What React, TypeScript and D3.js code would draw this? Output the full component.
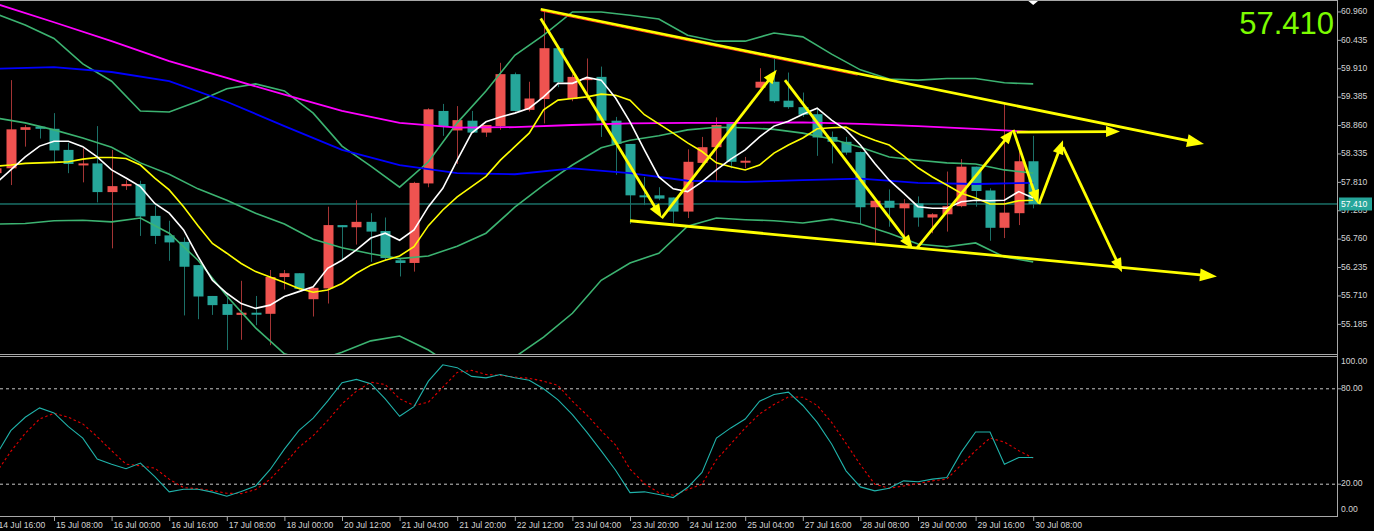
import React, { useEffect } from 'react';
import * as d3 from 'd3';

// layout of the terminal window
const W = 1374;
const H = 531;
const AXIS_X = 1337;
const MAIN_TOP = 1;
const MAIN_BOTTOM = 354;
const OSC_TOP = 357;
const OSC_BOTTOM = 516;

// first visible bar is index -1 (partly clipped at the left edge)
const FIRST_BAR = -1;

// H4 candles, bars -1 .. 71
const open = [57.98, 58.07, 58.78, 58.84, 58.80, 58.41, 58.14, 58.16, 57.63, 57.74, 57.78, 57.19, 56.83, 56.71, 56.28, 55.71, 55.56, 55.36, 55.40, 55.38, 56.06, 56.13, 55.65, 55.85, 57.02, 56.98, 57.08, 56.91, 56.37, 56.32, 57.79, 59.13, 58.77, 58.95, 58.73, 58.85, 59.81, 59.15, 59.35, 60.29, 59.35, 59.70, 59.76, 58.95, 58.52, 57.57, 57.57, 57.53, 57.27, 58.17, 58.46, 58.90, 58.19, 59.56, 59.67, 59.32, 59.20, 59.07, 58.65, 58.56, 58.37, 57.35, 57.47, 57.33, 57.42, 57.16, 57.22, 57.37, 58.10, 57.66, 56.97, 57.24, 58.20];
const high = [58.22, 59.70, 58.87, 58.85, 59.09, 58.54, 58.44, 58.85, 58.41, 57.85, 57.84, 57.38, 57.10, 56.79, 56.28, 55.71, 55.76, 55.99, 55.71, 56.19, 56.19, 56.13, 55.87, 57.36, 57.02, 57.48, 57.24, 57.16, 56.41, 57.82, 59.18, 59.26, 59.22, 59.13, 58.87, 60.02, 59.84, 59.67, 61.01, 60.29, 59.81, 60.10, 59.95, 59.02, 58.52, 57.91, 57.72, 57.53, 58.42, 58.65, 59.01, 58.91, 58.28, 59.92, 60.10, 59.84, 59.47, 59.18, 58.75, 58.65, 58.38, 57.47, 57.68, 57.50, 57.55, 57.24, 58.01, 58.24, 58.10, 57.70, 59.26, 58.50, 58.67];
const low = [57.85, 57.76, 58.47, 58.62, 58.18, 57.98, 57.81, 57.44, 56.59, 57.67, 56.82, 56.67, 56.36, 55.35, 55.28, 55.36, 54.71, 54.90, 55.17, 54.80, 55.83, 55.82, 55.33, 55.57, 56.37, 56.66, 56.34, 56.37, 56.07, 56.16, 57.72, 58.67, 58.15, 58.73, 58.65, 58.78, 59.12, 59.12, 58.90, 59.57, 59.31, 59.33, 58.65, 57.95, 57.04, 57.39, 57.48, 57.06, 57.15, 58.16, 57.82, 58.07, 58.07, 59.55, 59.28, 59.17, 59.02, 58.30, 58.16, 58.32, 57.04, 56.68, 56.99, 56.71, 56.99, 56.87, 56.90, 57.35, 57.36, 56.73, 56.78, 57.02, 57.33];
const close = [58.07, 58.79, 58.83, 58.80, 58.40, 58.15, 58.16, 57.63, 57.74, 57.78, 57.18, 56.82, 56.70, 56.25, 55.70, 55.54, 55.36, 55.40, 55.38, 56.06, 56.13, 55.84, 55.86, 57.02, 56.98, 57.08, 56.90, 56.41, 56.32, 57.80, 59.16, 58.84, 58.96, 58.73, 58.87, 59.81, 59.13, 59.36, 60.29, 59.66, 59.76, 59.74, 58.95, 58.52, 57.57, 57.54, 57.51, 57.27, 58.19, 58.46, 58.87, 58.19, 58.21, 59.67, 59.31, 59.20, 59.06, 58.64, 58.56, 58.36, 57.35, 57.47, 57.34, 57.42, 57.16, 57.22, 57.37, 58.10, 57.65, 56.97, 57.25, 58.20, 57.41];

// moving averages, one value per bar
const maFast = [57.80, 58.04, 58.28, 58.48, 58.57, 58.57, 58.47, 58.28, 58.04, 57.89, 57.73, 57.42, 57.24, 56.93, 56.44, 56.00, 55.76, 55.57, 55.48, 55.54, 55.70, 55.79, 55.88, 56.22, 56.37, 56.56, 56.78, 56.87, 56.74, 56.93, 57.36, 57.70, 58.22, 58.72, 58.93, 59.02, 59.09, 59.18, 59.39, 59.64, 59.64, 59.75, 59.70, 59.37, 58.93, 58.41, 57.91, 57.69, 57.64, 57.82, 58.04, 58.24, 58.41, 58.65, 58.85, 58.94, 59.07, 59.18, 58.96, 58.78, 58.50, 58.16, 57.85, 57.61, 57.36, 57.33, 57.33, 57.45, 57.48, 57.47, 57.48, 57.64, 57.52];
const maMedium = [58.11, 58.13, 58.16, 58.17, 58.18, 58.19, 58.24, 58.27, 58.27, 58.25, 58.13, 57.89, 57.67, 57.36, 57.01, 56.68, 56.50, 56.31, 56.16, 56.06, 55.96, 55.85, 55.78, 55.82, 55.94, 56.13, 56.28, 56.37, 56.45, 56.62, 57.01, 57.30, 57.54, 57.73, 57.92, 58.22, 58.47, 58.72, 59.15, 59.33, 59.36, 59.39, 59.44, 59.42, 59.33, 59.06, 58.89, 58.72, 58.54, 58.38, 58.17, 58.10, 58.04, 58.13, 58.35, 58.50, 58.63, 58.80, 58.82, 58.83, 58.69, 58.59, 58.50, 58.30, 58.08, 57.91, 57.76, 57.61, 57.52, 57.41, 57.41, 57.47, 57.48];

// slow averages read every 4 bars (-1, 3, 7 ... 71)
const maSlow = [61.11, 60.77, 60.42, 60.05, 59.74, 59.43, 59.13, 58.91, 58.82, 58.83, 58.87, 58.90, 58.91, 58.91, 58.92, 58.89, 58.85, 58.80, 58.74];
const maLong = [59.91, 59.94, 59.85, 59.68, 59.30, 58.85, 58.41, 58.13, 57.98, 57.96, 58.07, 57.98, 57.84, 57.82, 57.85, 57.88, 57.80, 57.78, 57.80];

// bollinger bands read every 2 bars (-1, 1, 3 ... 71)
const bbUpper = [60.92, 60.72, 60.47, 60.00, 59.68, 59.13, 59.11, 59.31, 59.54, 59.63, 59.50, 59.09, 58.48, 58.11, 57.72, 58.19, 58.91, 59.50, 60.16, 60.53, 60.96, 60.96, 60.90, 60.83, 60.53, 60.42, 60.42, 60.57, 60.50, 60.18, 59.89, 59.72, 59.70, 59.73, 59.73, 59.65, 59.63];
const bbMiddle = [59.00, 58.91, 58.78, 58.63, 58.46, 58.17, 57.96, 57.69, 57.48, 57.24, 57.04, 56.76, 56.60, 56.49, 56.40, 56.45, 56.63, 56.87, 57.35, 57.76, 58.13, 58.45, 58.59, 58.67, 58.78, 58.83, 58.82, 58.79, 58.72, 58.61, 58.46, 58.28, 58.22, 58.17, 58.15, 58.04, 57.98];
const bbLower = [57.04, 57.05, 57.10, 57.11, 57.08, 57.15, 56.87, 56.37, 55.71, 55.12, 54.64, 54.49, 54.67, 54.88, 54.97, 54.71, 54.36, 54.25, 54.58, 54.95, 55.39, 56.00, 56.32, 56.50, 57.00, 57.15, 57.12, 57.10, 57.06, 57.13, 57.04, 56.87, 56.67, 56.62, 56.69, 56.43, 56.34];

// stochastic oscillator, one value per bar
const stochK = [38.5, 53.7, 62.1, 68.0, 64.8, 56.2, 49.0, 35.8, 32.6, 29.7, 33.3, 24.8, 15.2, 16.8, 16.8, 15.0, 12.4, 15.4, 18.9, 29.1, 42.1, 53.7, 61.5, 72.2, 83.8, 85.9, 83.2, 73.7, 62.7, 68.8, 84.8, 95.1, 93.3, 87.8, 86.9, 89.0, 86.9, 85.4, 80.0, 73.0, 63.8, 52.8, 41.0, 28.8, 14.7, 15.2, 13.5, 11.6, 17.9, 27.4, 49.0, 55.4, 61.0, 72.2, 76.4, 77.9, 69.5, 58.9, 45.3, 28.4, 18.3, 15.8, 17.5, 22.1, 21.5, 23.2, 24.2, 40.0, 52.8, 52.8, 32.6, 36.8, 36.8];
const stochD = [27.4, 40.6, 52.0, 61.0, 64.6, 62.1, 57.9, 49.9, 41.1, 32.6, 31.6, 30.1, 23.2, 17.9, 17.1, 16.0, 14.3, 14.1, 16.6, 23.0, 32.6, 43.2, 50.5, 60.0, 70.5, 78.5, 84.2, 82.7, 73.7, 69.5, 71.6, 81.0, 90.3, 91.6, 89.0, 88.4, 87.4, 86.6, 84.8, 82.1, 72.2, 63.6, 53.7, 44.6, 29.5, 20.4, 14.7, 13.1, 16.6, 20.0, 35.4, 45.3, 55.4, 64.2, 70.1, 74.9, 74.7, 69.5, 58.9, 45.7, 32.2, 20.0, 17.5, 18.9, 20.4, 22.1, 23.2, 32.2, 41.1, 49.0, 46.5, 41.1, 36.4];

const priceTicks = [60.96, 60.435, 59.91, 59.385, 58.86, 58.335, 57.81, 57.285, 56.76, 56.235, 55.71, 55.185];
const oscTicks = [100, 80, 20, 0];
const oscLevels = [80, 20];
const timeLabels = ['14 Jul 16:00', '15 Jul 08:00', '16 Jul 00:00', '16 Jul 16:00', '17 Jul 08:00', '18 Jul 00:00', '20 Jul 12:00', '21 Jul 04:00', '21 Jul 20:00', '22 Jul 12:00', '23 Jul 04:00', '23 Jul 20:00', '24 Jul 12:00', '25 Jul 04:00', '27 Jul 16:00', '28 Jul 08:00', '29 Jul 00:00', '29 Jul 16:00', '30 Jul 08:00'];
const lastPrice = 57.41;

// hand drawn objects on the chart, [bar, price] pairs
const trendLines = [
    [[36.8, 61.01], [82.86, 58.52]],
    [[43.0, 57.1], [83.76, 56.07]],
];
const zigzag = [
    [[36.8, 60.84], [45.2, 57.15]],
    [[45.2, 57.15], [53.19, 59.89]],
    [[53.76, 59.7], [62.65, 56.58]],
    [[62.91, 56.59], [69.62, 58.78]],
    [[69.62, 58.78], [71.35, 57.41]],
    [[69.85, 58.74], [77.03, 58.75]],
    [[71.4, 57.41], [73.07, 58.59]],
    [[73.07, 58.46], [77.17, 56.15]],
];

const x = d3.scaleLinear().domain([0, 71]).range([10.8, 1033.2]);
const y = d3.scaleLinear().domain([54.637, 61.181]).range([MAIN_BOTTOM, 0]);
const yOsc = d3.scaleLinear().domain([0, 100]).range([OSC_BOTTOM, OSC_TOP]);

const FONT = '"Liberation Sans", Arial, sans-serif';
const AXIS_TEXT = '#d4d4d4';
const FRAME = '#a8a8a8';
const UP_FILL = '#ef5350';
const UP_WICK = '#a33434';
const DN_FILL = '#26a69a';
const DN_WICK = '#1c7068';
const BB_COLOR = '#3cb371';
const ARROW = '#ffff00';

const seriesPath = (values: number[], step: number, yScale: d3.ScaleLinear<number, number>) =>
    d3
        .line<number>()
        .x((_, k) => x(FIRST_BAR + k * step))
        .y(d => yScale(d))(values) || '';

const Arrow = ({ from, to, head = 14, half = 5.5 }: { from: number[]; to: number[]; head?: number; half?: number }) => {
    const x1 = x(from[0]);
    const y1 = y(from[1]);
    const x2 = x(to[0]);
    const y2 = y(to[1]);
    const len = Math.hypot(x2 - x1, y2 - y1);
    const ux = (x2 - x1) / len;
    const uy = (y2 - y1) / len;
    const bx = x2 - ux * head;
    const by = y2 - uy * head;
    const nx = -uy;
    const ny = ux;
    return (
        <g>
            <line x1={x1} y1={y1} x2={bx + ux * 3} y2={by + uy * 3} stroke={ARROW} strokeWidth={2.8} />
            <polygon
                points={`${x2},${y2} ${bx + nx * half},${by + ny * half} ${bx - nx * half},${by - ny * half}`}
                fill={ARROW}
            />
        </g>
    );
};

const App = () => {
    useEffect(() => {
        document.body.style.margin = '0';
        document.body.style.background = '#000';
    }, []);

    const bars = open.map((o, k) => ({
        i: FIRST_BAR + k,
        o,
        h: high[k],
        l: low[k],
        c: close[k],
    }));

    const tickBars = d3.range(-1, 72, 4);
    const upper = trendLines[0];

    return (
        <svg width={W} height={H} style={{ position: 'absolute', left: 0, top: 0, background: '#000' }}>
            <defs>
                <clipPath id='mainClip'>
                    <rect x={0} y={MAIN_TOP} width={AXIS_X} height={MAIN_BOTTOM - MAIN_TOP} />
                </clipPath>
                <clipPath id='oscClip'>
                    <rect x={0} y={OSC_TOP} width={AXIS_X} height={OSC_BOTTOM - OSC_TOP} />
                </clipPath>
            </defs>
            <rect width={W} height={H} fill='#000' />

            <g clipPath='url(#mainClip)'>
                {/* bid line */}
                <line x1={0} x2={AXIS_X} y1={y(lastPrice)} y2={y(lastPrice)} stroke={DN_FILL} strokeWidth={1} />

                {bars.map(b => {
                    const up = b.c >= b.o;
                    const cx = Math.round(x(b.i)) + 0.5;
                    const top = y(Math.max(b.o, b.c));
                    const bot = y(Math.min(b.o, b.c));
                    return (
                        <g key={b.i}>
                            <line x1={cx} x2={cx} y1={y(b.h)} y2={y(b.l)} stroke={up ? UP_WICK : DN_WICK} strokeWidth={1} />
                            <rect
                                x={cx - 5}
                                y={top}
                                width={10}
                                height={Math.max(2, bot - top)}
                                fill={up ? UP_FILL : DN_FILL}
                            />
                        </g>
                    );
                })}

                {[bbUpper, bbMiddle, bbLower].map((band, k) => (
                    <path key={k} d={seriesPath(band, 2, y)} fill='none' stroke={BB_COLOR} strokeWidth={1.6} />
                ))}
                <path d={seriesPath(maSlow, 4, y)} fill='none' stroke='#ff00ff' strokeWidth={1.8} />
                <path d={seriesPath(maLong, 4, y)} fill='none' stroke='#0000ff' strokeWidth={1.8} />
                <path d={seriesPath(maMedium, 1, y)} fill='none' stroke='#ffff00' strokeWidth={1.6} />
                <path d={seriesPath(maFast, 1, y)} fill='none' stroke='#ffffff' strokeWidth={1.6} />

                {/* thin red copy under the upper channel line */}
                <line
                    x1={x(upper[0][0])}
                    y1={y(upper[0][1]) + 1.6}
                    x2={x(58.8)}
                    y2={y(upper[0][1] + ((upper[1][1] - upper[0][1]) * (58.8 - upper[0][0])) / (upper[1][0] - upper[0][0])) + 1.6}
                    stroke='#ff2020'
                    strokeWidth={1}
                />
                {trendLines.map((t, k) => (
                    <Arrow key={`t${k}`} from={t[0]} to={t[1]} head={17} half={6.5} />
                ))}
                {zigzag.map((t, k) => (
                    <Arrow key={`z${k}`} from={t[0]} to={t[1]} />
                ))}
            </g>

            {/* shift marker */}
            <polygon points={`${x(71) - 6},0 ${x(71) + 6},0 ${x(71)},5`} fill='#ffffff' />

            <g clipPath='url(#oscClip)'>
                {oscLevels.map(v => (
                    <line
                        key={v}
                        x1={0}
                        x2={AXIS_X}
                        y1={yOsc(v)}
                        y2={yOsc(v)}
                        stroke='#c8c8c8'
                        strokeWidth={1}
                        strokeDasharray='3,3'
                    />
                ))}
                <path d={seriesPath(stochD, 1, yOsc)} fill='none' stroke='#e00000' strokeWidth={1.1} strokeDasharray='2.5,2.5' />
                <path d={seriesPath(stochK, 1, yOsc)} fill='none' stroke='#20b2aa' strokeWidth={1.1} />
            </g>

            {/* frames */}
            <g stroke={FRAME} strokeWidth={1} shapeRendering='crispEdges'>
                <line x1={0} x2={AXIS_X} y1={0.5} y2={0.5} />
                <line x1={0} x2={AXIS_X} y1={MAIN_BOTTOM + 0.5} y2={MAIN_BOTTOM + 0.5} />
                <line x1={0} x2={AXIS_X} y1={OSC_TOP - 0.5} y2={OSC_TOP - 0.5} />
                <line x1={0} x2={AXIS_X} y1={OSC_BOTTOM + 0.5} y2={OSC_BOTTOM + 0.5} />
                <line x1={AXIS_X + 0.5} x2={AXIS_X + 0.5} y1={0} y2={OSC_BOTTOM + 1} />
            </g>

            {/* price axis */}
            <g fontFamily={FONT} fontSize={8.6} fill={AXIS_TEXT}>
                {priceTicks.map(p => (
                    <g key={p}>
                        <line x1={AXIS_X} x2={AXIS_X + 4} y1={y(p)} y2={y(p)} stroke={FRAME} />
                        <text x={AXIS_X + 4} y={y(p)} dominantBaseline='middle'>
                            {p.toFixed(3)}
                        </text>
                    </g>
                ))}
                <rect x={AXIS_X + 2} y={y(lastPrice) - 6.5} width={33} height={13} fill={DN_FILL} />
                <text x={AXIS_X + 4} y={y(lastPrice) + 0.5} dominantBaseline='middle' fill='#ffffff'>
                    {lastPrice.toFixed(3)}
                </text>
            </g>

            {/* oscillator axis */}
            <g fontFamily={FONT} fontSize={8.6} fill={AXIS_TEXT}>
                {oscTicks.map(v => {
                    const ty = Math.min(Math.max(yOsc(v), OSC_TOP + 5), OSC_BOTTOM - 6);
                    return (
                        <g key={v}>
                            {oscLevels.includes(v) && (
                                <line x1={AXIS_X} x2={AXIS_X + 4} y1={yOsc(v)} y2={yOsc(v)} stroke={FRAME} />
                            )}
                            <text x={AXIS_X + 4} y={ty} dominantBaseline='middle'>
                                {v.toFixed(2)}
                            </text>
                        </g>
                    );
                })}
            </g>

            {/* time axis */}
            <g fontFamily={FONT} fontSize={8.6} fill={AXIS_TEXT}>
                {tickBars.map((b, k) => (
                    <g key={b}>
                        <line x1={x(b) + 0.5} x2={x(b) + 0.5} y1={OSC_BOTTOM + 1} y2={OSC_BOTTOM + 5} stroke={FRAME} />
                        <text x={x(b) + 2} y={OSC_BOTTOM + 10} dominantBaseline='middle'>
                            {timeLabels[k]}
                        </text>
                    </g>
                ))}
            </g>

            {/* big bid readout */}
            <text
                x={AXIS_X - 3}
                y={34}
                textAnchor='end'
                fontFamily={FONT}
                fontSize={31}
                fill='#7cfc00'
            >
                {lastPrice.toFixed(3)}
            </text>
        </svg>
    );
};

export default App;
